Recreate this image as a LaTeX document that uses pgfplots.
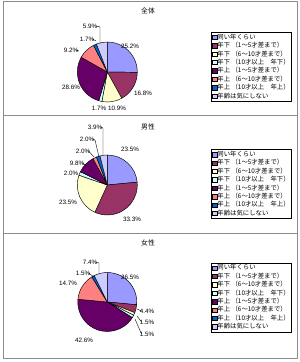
\documentclass[border=0pt]{standalone}
\usepackage{fontspec}
\setmainfont{Liberation Sans}
\newfontfamily\jp{Noto Sans CJK JP}
\usepackage{pgfplots}
\usepackage{pgfplotstable}
\pgfplotsset{compat=1.18}
\definecolor{c1}{HTML}{9999FF}
\definecolor{c2}{HTML}{993366}
\definecolor{c3}{HTML}{FFFFCC}
\definecolor{c4}{HTML}{CCFFFF}
\definecolor{c5}{HTML}{660066}
\definecolor{c6}{HTML}{FF8080}
\definecolor{c7}{HTML}{0066CC}
\definecolor{c8}{HTML}{CCCCFF}
\definecolor{frame}{HTML}{8C8C8C}

\pgfplotstableread{
v c
25.2 c1
16.8 c2
10.9 c3
1.7 c4
28.6 c5
9.2 c6
1.7 c7
5.9 c8
}\dataAll
\pgfplotstableread{
v c
23.5 c1
33.3 c2
23.5 c3
2.0 c4
9.8 c5
2.0 c6
2.0 c7
3.9 c8
}\dataMale
\pgfplotstableread{
v c
26.5 c1
4.4 c2
1.5 c3
1.5 c4
42.6 c5
14.7 c6
1.5 c7
7.4 c8
}\dataFemale

% #1 table, #2 cx, #3 cy (image px), #4 radius
\newcommand{\drawpie}[4]{%
  \pgfmathsetmacro{\cum}{0}%
  \pgfplotstablegetrowsof{#1}%
  \pgfmathtruncatemacro{\nrows}{\pgfplotsretval-1}%
  \pgfplotsforeachungrouped \i in {0,...,\nrows}{%
    \pgfplotstablegetelem{\i}{v}\of{#1}\let\val\pgfplotsretval
    \pgfplotstablegetelem{\i}{c}\of{#1}\let\col\pgfplotsretval
    \pgfmathsetmacro{\sa}{90-3.6*\cum}%
    \pgfmathsetmacro{\ea}{90-3.6*(\cum+\val)}%
    \pgfmathsetmacro{\cum}{\cum+\val}%
    \pgfmathsetmacro{\cyy}{362-#3}%
    \edef\temp{\noexpand\filldraw[fill=\col, draw=black, line width=0.45pt, line join=round] (axis cs:#2,\cyy) -- ++(\sa:#4bp) arc[start angle=\sa, end angle=\ea, radius=#4bp] -- cycle;}%
    \temp
  }%
}
\newcommand{\lab}[3]{\node[font=\fontsize{6.3}{7}\selectfont, inner sep=0pt] at (axis cs:#1,{362-#2}) {#3};}
\newcommand{\lead}[1]{\draw[black, line width=0.4pt] #1;}

\pgfplotsset{
  panel/.style={
    at={(0,0)}, anchor=origin,
    x=1bp, y=1bp, xmin=0, xmax=300, ymin=0, ymax=362,
    hide axis, clip=false,
    legend image code/.code={\draw[##1, draw=black, line width=0.3pt] (0bp,-2.2bp) rectangle (4.5bp,2.2bp);},
    legend style={draw=black, line width=0.5pt, fill=white, inner sep=0.8bp,
      font=\jp\fontsize{6.4}{7}\selectfont,
      nodes={inner sep=0.6bp, text height=5.6bp, text depth=1.6bp},
      row sep=0pt, column sep=0pt, anchor=north west},
    legend cell align=left,
  },
}

\newcommand{\legendimages}{%
  \addlegendimage{fill=c1}\addlegendimage{fill=c2}\addlegendimage{fill=c3}\addlegendimage{fill=c4}%
  \addlegendimage{fill=c5}\addlegendimage{fill=c6}\addlegendimage{fill=c7}\addlegendimage{fill=c8}%
  \legend{同い年くらい,年下 （1～5才差まで）,年下 （6～10才差まで）,年下 （10才以上　年下）,年上 （1～5才差まで）,年上 （6～10才差まで）,年上 （10才以上　年上）,年齢は気にしない}%
}

\begin{document}
\begin{tikzpicture}
\path[use as bounding box] (0,0) rectangle (300bp,362bp);
% frames
\draw[frame, line width=1bp] (3bp,3bp) rectangle (297bp,360bp);
\draw[frame, line width=1bp] (3bp,246bp) -- (297bp,246bp);
\draw[frame, line width=1bp] (3bp,128bp) -- (297bp,128bp);

% Panel 1
\begin{axis}[panel, legend style={at={(axis description cs:0.7033,0.9116)}}]
\legendimages
\drawpie{\dataAll}{107.3}{72}{30}
\node[font=\jp\fontsize{6.8}{7}\selectfont] at (axis cs:148,{362-11}) {全体};
\lab{130}{46}{25.2\%}
\lab{143}{93}{16.8\%}
\lab{117}{108}{10.9\%}
\lab{99}{108}{1.7\%}
\lab{71}{87}{28.6\%}
\lab{71}{50}{9.2\%}
\lab{87}{39}{1.7\%}
\lab{90}{26}{5.9\%}
\lead{(axis cs:96,{362-26}) -- (axis cs:100,{362-27}) -- (axis cs:100,{362-43})}
\lead{(axis cs:92.5,{362-39}) -- (axis cs:96,{362-41})}
\lead{(axis cs:76,{362-50}) -- (axis cs:79,{362-51})}
\end{axis}

% Panel 2
\begin{axis}[panel, legend style={at={(axis description cs:0.7033,0.5876)}}]
\legendimages
\drawpie{\dataMale}{107.3}{185}{30}
\node[font=\jp\fontsize{6.8}{7}\selectfont] at (axis cs:148,{362-127}) {男性};
\lab{130}{149}{23.5\%}
\lab{132}{219}{33.3\%}
\lab{68}{202}{23.5\%}
\lab{71}{173}{2.0\%}
\lab{77}{163}{9.8\%}
\lab{83}{151}{2.0\%}
\lab{87}{139}{2.0\%}
\lab{95}{127}{3.9\%}
\lead{(axis cs:100.5,{362-127}) -- (axis cs:103,{362-128}) -- (axis cs:103,{362-155})}
\lead{(axis cs:92.5,{362-139}) -- (axis cs:95,{362-140}) -- (axis cs:99,{362-157})}
\lead{(axis cs:88.5,{362-151}) -- (axis cs:94,{362-157})}
\lead{(axis cs:82.5,{362-163}) -- (axis cs:86,{362-166})}
\end{axis}

% Panel 3
\begin{axis}[panel, legend style={at={(axis description cs:0.7033,0.2743)}}]
\legendimages
\drawpie{\dataFemale}{107.3}{302}{29.5}
\node[font=\jp\fontsize{6.8}{7}\selectfont] at (axis cs:148,{362-243}) {女性};
\lab{130}{277}{26.5\%}
\lab{147}{311}{4.4\%}
\lab{147}{322}{1.5\%}
\lab{147}{334}{1.5\%}
\lab{84}{340}{42.6\%}
\lab{68}{283}{14.7\%}
\lab{83}{273}{1.5\%}
\lab{90}{262}{7.4\%}
\lead{(axis cs:95.5,{362-262}) -- (axis cs:99,{362-263}) -- (axis cs:99,{362-273})}
\lead{(axis cs:88.5,{362-273}) -- (axis cs:94,{362-277})}
\lead{(axis cs:141.5,{362-311}) -- (axis cs:137,{362-309})}
\lead{(axis cs:141.5,{362-322}) -- (axis cs:137,{362-316})}
\lead{(axis cs:141.5,{362-334}) -- (axis cs:135,{362-319})}
\end{axis}
\end{tikzpicture}
\end{document}
